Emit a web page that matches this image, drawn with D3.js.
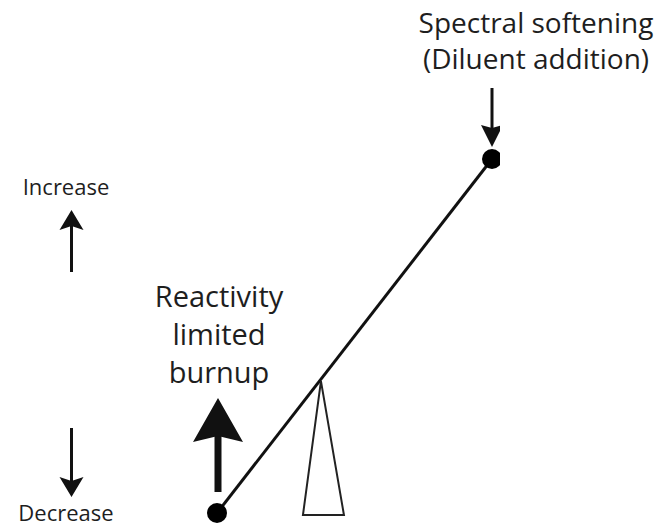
<!DOCTYPE html>
<html>
<head>
<meta charset="utf-8">
<script src="https://cdn.jsdelivr.net/npm/d3@7"></script>
<style>
  body { margin: 0; background: #fff; }
  svg { display: block; }
  text { font-family: "Open Sans", "Noto Sans", sans-serif; fill: #1e1e1e; font-weight: 500; }
</style>
</head>
<body>
<svg></svg>
<script>
// lever ends: 0 = burnup end (low), 1 = softening end (high)
const leverEnds = [0, 1]
const fulcrumAt = 0.378
const sideLabels = ["Increase", "Decrease"]
const burnupLabel = ["Reactivity", "limited", "burnup"]
const softeningLabel = ["Spectral softening", "(Diluent addition)"]

const width = 663, height = 528

const svg = d3.select("svg")
  .attr("width", width)
  .attr("height", height)

// lever position -> pixels
const x = d3.scaleLinear().domain([0, 1]).range([217, 492])
const y = d3.scaleLinear().domain([0, 1]).range([513, 159])

svg.append("defs").append("clipPath")
  .attr("id", "cut")
  .append("rect")
  .attr("x", 0).attr("y", 0)
  .attr("width", 500).attr("height", height)

const g = svg.append("g").attr("clip-path", "url(#cut)")

// arrow with a notched head, tip at y1
function arrow(cx, y0, y1, shaftW, headL, headW, notch) {
  const dir = y1 > y0 ? 1 : -1
  const base = y1 - dir * headL
  g.append("line")
    .attr("x1", cx).attr("x2", cx)
    .attr("y1", y0).attr("y2", base + dir * notch)
    .attr("stroke", "#111")
    .attr("stroke-width", shaftW)
  g.append("path")
    .attr("d", `M${cx},${y1} L${cx + headW},${base} L${cx},${base + dir * notch} L${cx - headW},${base} Z`)
    .attr("fill", "#111")
}

// lever
g.append("line")
  .attr("x1", x(leverEnds[0])).attr("y1", y(leverEnds[0]))
  .attr("x2", x(leverEnds[1])).attr("y2", y(leverEnds[1]))
  .attr("stroke", "#111")
  .attr("stroke-width", 3)

// fulcrum
const fx = x(fulcrumAt), fy = y(fulcrumAt)
g.append("path")
  .attr("d", `M${fx},${fy + 2} L${fx + 23},${y(0) + 2} L${fx - 18},${y(0) + 2} Z`)
  .attr("fill", "none")
  .attr("stroke", "#222")
  .attr("stroke-width", 2)

g.selectAll("circle.end")
  .data(leverEnds)
  .join("circle")
  .attr("class", "end")
  .attr("cx", d => x(d))
  .attr("cy", d => y(d))
  .attr("r", 10)
  .attr("fill", "#000")

// arrows
arrow(71.5, 272, 210, 3, 20, 12, 4)
arrow(71.5, 428, 497, 3, 20, 12, 4)
arrow(x(1), 88, 147, 3, 22, 11, 3)
arrow(x(0) + 1, 492, 398, 7, 44, 25, 6)

// side labels
svg.selectAll("text.side")
  .data(sideLabels)
  .join("text")
  .attr("class", "side")
  .attr("x", 66)
  .attr("y", (d, i) => i === 0 ? 195 : 521)
  .attr("text-anchor", "middle")
  .attr("font-size", 22)
  .text(d => d)

svg.selectAll("text.burnup")
  .data(burnupLabel)
  .join("text")
  .attr("class", "burnup")
  .attr("x", 219)
  .attr("y", (d, i) => 307 + i * 38)
  .attr("text-anchor", "middle")
  .attr("font-size", 29)
  .text(d => d)

svg.selectAll("text.soft")
  .data(softeningLabel)
  .join("text")
  .attr("class", "soft")
  .attr("x", 536)
  .attr("y", (d, i) => 33 + i * 36)
  .attr("text-anchor", "middle")
  .attr("font-size", 28)
  .text(d => d)
</script>
</body>
</html>
